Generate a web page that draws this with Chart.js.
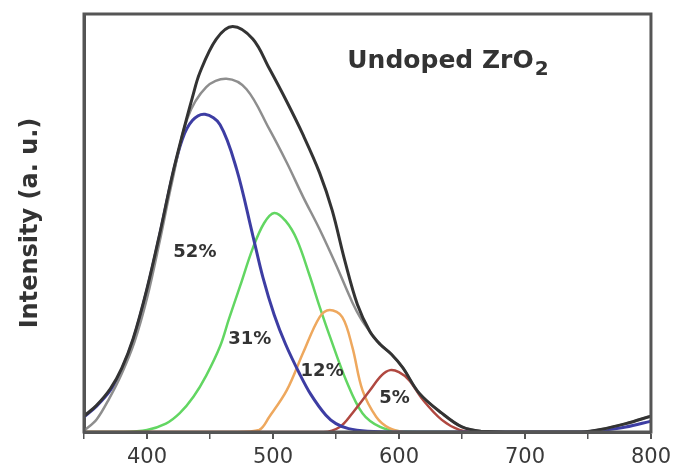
<!DOCTYPE html>
<html>
<head>
<meta charset="utf-8">
<title>Undoped ZrO2 PL</title>
<script src="https://cdn.jsdelivr.net/npm/chart.js@4.4.1/dist/chart.umd.min.js"></script>
<style>
  html, body { margin: 0; padding: 0; background: #fff; }
</style>
</head>
<body>
<canvas id="plChart" width="677" height="472"></canvas>
<script>
// Measured emission spectrum (nm, a.u.)
const measuredNm  = [350, 360, 371, 380, 389, 400, 410, 420, 428, 436, 442, 455, 468, 484, 497, 511, 524, 537, 547, 557, 567, 577, 585, 594, 603, 616, 634, 650, 665, 700, 745, 760, 780, 800];
const measuredInt = [3.8, 6.4, 10.4, 15.3, 22.3, 34.3, 47.3, 61.3, 71, 80, 86, 94, 97, 94, 87, 79, 71, 62, 53, 41, 30.5, 24, 21, 18.6, 15.4, 9.3, 4.5, 1.2, 0.2, 0, 0, 0.6, 2, 3.8];

// Cumulative fit
const fitNm  = [350, 360, 370, 380, 390, 400, 410, 420, 432, 447, 463, 479, 497, 511, 524, 537, 550, 563, 570, 577, 585, 594, 603, 616, 634, 650, 665, 700, 745, 760, 780, 800];
const fitInt = [0.3, 3, 8, 14, 21.5, 32, 45.5, 60, 75, 82.5, 84.5, 82, 72.5, 64.4, 56.2, 48.5, 40, 31, 27, 24, 21, 18.6, 15.4, 9.3, 4.5, 1.2, 0.2, 0, 0, 0.6, 2, 3.8];

// Gaussian components
const blueNm  = [350, 360, 371, 380, 389, 400, 410, 420, 428, 436, 446, 458, 471, 484, 492, 501, 510, 521, 530, 542, 550, 560, 575, 600, 700, 745, 760, 780, 800];
const blueInt = [3.6, 6.2, 10, 15, 22, 34, 47, 61, 70, 74.5, 76, 73.5, 63, 47, 37, 28, 21, 14, 9, 4, 2, 0.8, 0.2, 0, 0, 0, 0.4, 1.2, 2.6];

const greenNm  = [350, 380, 400, 415, 426, 437, 447, 458, 465, 474, 484, 493, 501, 510, 519, 529, 537, 545, 558, 571, 585, 600, 650];
const greenInt = [0, 0, 0.5, 2, 4.5, 8.5, 13.5, 20.5, 27, 35, 44, 50, 52.4, 50.5, 46, 37.5, 30, 23, 12.4, 4.5, 1.2, 0.2, 0];

const orangeNm  = [350, 470, 489, 497, 511, 524, 537, 545, 555, 563, 571, 582, 592, 605, 650];
const orangeInt = [0, 0, 0.5, 3.6, 10, 19, 27.5, 29.2, 27.5, 20.3, 10, 3.6, 1, 0, 0];

const redNm  = [350, 540, 553, 563, 577, 586, 593, 600, 608, 619, 634, 648, 660];
const redInt = [0, 0, 1.2, 4.5, 10, 13.5, 14.8, 14.3, 12.4, 7.7, 2.9, 0.5, 0];

// Share of each component
const peakLabels = ['52%', '31%', '12%', '5%'];
const xTickLabels = [400, 500, 600, 700, 800];

const toPoints = (xs, ys) => xs.map((x, i) => ({ x: x, y: ys[i] }));

function lineSet(label, xs, ys, color, width, order) {
    return {
        label: label,
        data: toPoints(xs, ys),
        borderColor: color,
        borderWidth: width,
        pointRadius: 0,
        fill: false,
        tension: 0.35,
        order: order
    };
}

// Frame, percentages and sample name
const decorations = {
    id: 'decorations',
    afterDraw(chart) {
        const { ctx, chartArea: a, scales } = chart;
        const xs = scales.x, ys = scales.y;

        ctx.save();
        ctx.strokeStyle = '#555';
        ctx.lineWidth = 3;
        ctx.strokeRect(a.left, a.top, a.right - a.left, a.bottom - a.top);

        // percentage labels next to each component
        const anchors = [[438, 43], [481.5, 22.2], [539, 14.4], [596.5, 8.1]];
        ctx.fillStyle = '#333';
        ctx.font = 'bold 18px "DejaVu Sans"';
        ctx.textAlign = 'center';
        ctx.textBaseline = 'middle';
        peakLabels.forEach((t, i) => {
            ctx.fillText(t, xs.getPixelForValue(anchors[i][0]), ys.getPixelForValue(anchors[i][1]));
        });

        // sample name with subscript
        const tx = xs.getPixelForValue(559);
        const ty = ys.getPixelForValue(87);
        ctx.textAlign = 'left';
        ctx.textBaseline = 'alphabetic';
        ctx.font = 'bold 25px "DejaVu Sans"';
        const main = 'Undoped ZrO';
        ctx.fillText(main, tx, ty);
        const w = ctx.measureText(main).width;
        ctx.font = 'bold 20px "DejaVu Sans"';
        ctx.fillText('2', tx + w + 1, ty + 7);
        ctx.restore();
    }
};

new Chart(document.getElementById('plChart'), {
    type: 'line',
    data: {
        datasets: [
            lineSet('Measured', measuredNm, measuredInt, '#333333', 3, 0),
            lineSet('Fit', fitNm, fitInt, '#8e8e8e', 2.5, 1),
            lineSet('Peak 1', blueNm, blueInt, '#3d3da3', 3, 2),
            lineSet('Peak 4', redNm, redInt, '#b04840', 2.5, 3),
            lineSet('Peak 3', orangeNm, orangeInt, '#eea85e', 2.5, 4),
            lineSet('Peak 2', greenNm, greenInt, '#62d662', 2.5, 5)
        ]
    },
    options: {
        responsive: false,
        animation: false,
        layout: { padding: { left: 0, right: 25, top: 14, bottom: 0 } },
        plugins: {
            legend: { display: false },
            tooltip: { enabled: false }
        },
        scales: {
            x: {
                type: 'linear',
                min: 350,
                max: 800,
                afterFit: (scale) => { scale.height = 40; },
                border: { display: true, color: '#555', width: 3 },
                grid: {
                    drawOnChartArea: false,
                    drawTicks: true,
                    tickLength: 7,
                    color: '#555',
                    lineWidth: (c) => (c.tick && c.tick.value % 100 === 0 ? 2 : 1.5)
                },
                ticks: {
                    stepSize: 50,
                    autoSkip: false,
                    maxRotation: 0,
                    padding: 6,
                    color: '#3a3a3a',
                    font: { family: '"DejaVu Sans"', size: 21 },
                    callback: (v) => (xTickLabels.includes(v) ? String(v) : '')
                }
            },
            y: {
                min: 0,
                max: 100,
                afterFit: (scale) => { scale.width = 84; },
                border: { display: true, color: '#555', width: 3 },
                grid: { display: false },
                ticks: { display: false },
                title: {
                    display: true,
                    text: 'Intensity (a. u.)',
                    color: '#333',
                    font: { family: '"DejaVu Sans"', size: 24, weight: 'bold' },
                    padding: { top: 16, bottom: 0 }
                }
            }
        }
    },
    plugins: [decorations]
});
</script>
</body>
</html>
